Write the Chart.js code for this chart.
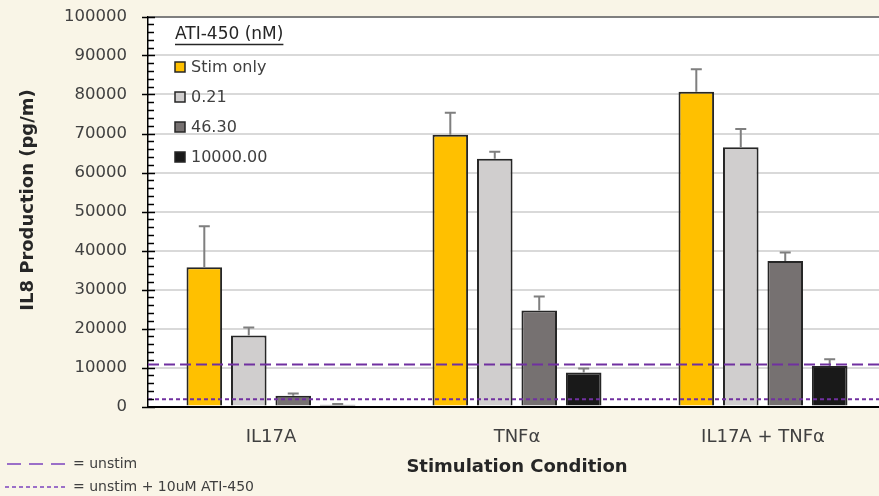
<!DOCTYPE html>
<html>
<head>
<meta charset="utf-8">
<script src="https://cdn.jsdelivr.net/npm/chart.js@4/dist/chart.umd.min.js"></script>
<style>
  html, body { margin: 0; padding: 0; background: #f9f5e7; overflow: hidden; }
  #wrap { width: 886px; height: 496px; }
</style>
</head>
<body>
<div id="wrap"><canvas id="c" width="886" height="496"></canvas></div>
<script>
// ---- data ----
const categories = ['IL17A', 'TNFα', 'IL17A + TNFα'];
const seriesLabels = ['Stim only', '0.21', '46.30', '10000.00'];
const stimOnly  = [35700, 69650, 80700];
const ati021    = [18200, 63500, 66500];
const ati4630   = [2750, 24600, 37300];
const ati10000  = [460, 8700, 10400];
const errStimOnly = [10500, 5650, 5800];
const err021      = [2050, 1800, 4650];
const err4630     = [600, 3600, 2200];
const err10000    = [200, 1050, 1700];
const refLevels = [10800, 1850];
const refLabels = ['= unstim', '= unstim + 10uM ATI-450'];
const legendTitle = 'ATI-450 (nM)';
const yTitle = 'IL8 Production (pg/m)';
const xTitle = 'Stimulation Condition';
const yMax = 100000;
const yMajorStep = 10000;
const yMinorStep = 2000;

const seriesValues = [stimOnly, ati021, ati4630, ati10000];
const seriesErrors = [errStimOnly, err021, err4630, err10000];
const seriesColors = ['#ffc000', '#d0cece', '#767171', '#191919'];
const refDashes = [[11, 5], [4, 3]];
const purple = '#7030a0';
const textColor = '#404040';

Chart.defaults.font.family = 'DejaVu Sans';
Chart.defaults.color = textColor;

const bgPlugin = {
  id: 'bg',
  beforeDraw(chart) {
    const { ctx, chartArea: a, width, height } = chart;
    ctx.save();
    ctx.fillStyle = '#f9f5e7';
    ctx.fillRect(0, 0, width, height);
    ctx.fillStyle = '#ffffff';
    ctx.fillRect(a.left, a.top, a.right - a.left, a.bottom - a.top);
    ctx.restore();
  }
};

const overlayPlugin = {
  id: 'overlay',
  afterDatasetsDraw(chart) {
    const { ctx, chartArea: a } = chart;
    const ys = chart.scales.y;
    ctx.save();
    // error bars
    chart.data.datasets.forEach((ds, i) => {
      const meta = chart.getDatasetMeta(i);
      meta.data.forEach((bar, j) => {
        const yTop = ys.getPixelForValue(ds.data[j] + ds.errors[j]);
        ctx.strokeStyle = '#7f7f7f';
        ctx.lineWidth = 2;
        ctx.beginPath();
        ctx.moveTo(bar.x, bar.y);
        ctx.lineTo(bar.x, yTop);
        ctx.moveTo(bar.x - 5.5, yTop);
        ctx.lineTo(bar.x + 5.5, yTop);
        ctx.stroke();
      });
    });
    // reference lines
    refLevels.forEach((v, i) => {
      const y = ys.getPixelForValue(v);
      ctx.strokeStyle = purple;
      ctx.lineWidth = 2;
      ctx.setLineDash(refDashes[i]);
      ctx.beginPath();
      ctx.moveTo(a.left, y);
      ctx.lineTo(a.right, y);
      ctx.stroke();
    });
    ctx.setLineDash([]);
    ctx.restore();
  },
  afterDraw(chart) {
    const { ctx, chartArea: a } = chart;
    const ys = chart.scales.y;
    ctx.save();
    // y tick marks
    ctx.strokeStyle = '#000';
    ctx.lineWidth = 1.5;
    ys.ticks.forEach(t => {
      const y = Math.round(ys.getPixelForValue(t.value)) + 0.5;
      ctx.beginPath();
      if (t.value % yMajorStep === 0) {
        ctx.moveTo(a.left - 6, y); ctx.lineTo(a.left + 7, y);
      } else {
        ctx.moveTo(a.left, y); ctx.lineTo(a.left + 6, y);
      }
      ctx.stroke();
    });
    // in-plot legend
    ctx.fillStyle = '#262626';
    ctx.font = '17px "DejaVu Sans"';
    ctx.textBaseline = 'middle';
    ctx.textAlign = 'left';
    const lx = a.left + 27;
    ctx.fillText(legendTitle, lx, a.top + 18.5);
    const tw = ctx.measureText(legendTitle).width;
    ctx.strokeStyle = '#262626';
    ctx.lineWidth = 1.5;
    ctx.beginPath();
    ctx.moveTo(lx, a.top + 28); ctx.lineTo(lx + tw, a.top + 28);
    ctx.stroke();
    ctx.font = '16px "DejaVu Sans"';
    chart.data.datasets.forEach((ds, i) => {
      const cy = a.top + 50.5 + 30 * i;
      ctx.fillStyle = ds.backgroundColor;
      ctx.fillRect(lx, cy - 5, 10, 10);
      ctx.strokeStyle = '#262626';
      ctx.lineWidth = 1.5;
      ctx.strokeRect(lx, cy - 5, 10, 10);
      ctx.fillStyle = textColor;
      ctx.fillText(ds.label, lx + 16, cy + 1);
    });
    // y title
    ctx.save();
    ctx.translate(28, 200);
    ctx.rotate(-Math.PI / 2);
    ctx.font = 'bold 18px "DejaVu Sans"';
    ctx.fillStyle = '#262626';
    ctx.textAlign = 'center';
    ctx.textBaseline = 'middle';
    ctx.fillText(yTitle, 0, 0);
    ctx.restore();
    // bottom-left legend for reference lines
    ctx.font = '14px "DejaVu Sans"';
    ctx.fillStyle = textColor;
    ctx.textAlign = 'left';
    ctx.textBaseline = 'middle';
    const rows = [464, 487];
    const spans = [[7, 66], [5, 68]];
    refLabels.forEach((lab, i) => {
      ctx.strokeStyle = '#9b6fc8';
      ctx.lineWidth = 2;
      ctx.setLineDash(i === 0 ? [14, 8] : [4, 3]);
      ctx.beginPath();
      ctx.moveTo(spans[i][0], rows[i]);
      ctx.lineTo(spans[i][1], rows[i]);
      ctx.stroke();
      ctx.setLineDash([]);
      ctx.fillText(lab, 73, rows[i]);
    });
    ctx.restore();
  }
};

new Chart(document.getElementById('c'), {
  type: 'bar',
  data: {
    labels: categories,
    datasets: seriesLabels.map((lab, i) => ({
      label: lab,
      data: seriesValues[i],
      errors: seriesErrors[i],
      backgroundColor: seriesColors[i],
      borderColor: '#262626',
      borderWidth: 2,
      categoryPercentage: 0.723,
      barPercentage: 0.8
    }))
  },
  options: {
    responsive: false,
    animation: false,
    layout: { padding: { top: 16.5, left: 0, right: 0, bottom: 0 } },
    plugins: { legend: { display: false }, tooltip: { enabled: false } },
    scales: {
      x: {
        grid: { display: false, drawTicks: false },
        border: { display: true, color: '#000', width: 2 },
        ticks: { padding: 20, color: textColor, font: { size: 18 } },
        title: { display: true, text: xTitle, color: '#262626', font: { size: 18, weight: 'bold' }, padding: { top: 0, bottom: 18 } },
        afterFit(s) { s.height = 89.5; s.paddingLeft = 0; s.paddingRight = 0; }
      },
      y: {
        min: 0,
        max: yMax,
        grid: {
          drawTicks: false,
          color: c => (c.tick && c.tick.value === yMax) ? '#7f7f7f' : ((c.tick && c.tick.value % yMajorStep === 0) ? '#d9d9d9' : 'rgba(0,0,0,0)'),
          lineWidth: 2
        },
        border: { display: true, color: '#000', width: 1.5 },
        ticks: {
          stepSize: yMinorStep,
          autoSkip: false,
          padding: 21,
          color: textColor,
          font: { size: 16.5 },
          callback: v => (v % yMajorStep === 0 ? String(v) : '')
        },
        afterFit(s) { s.width = 148; s.paddingTop = 0; s.paddingBottom = 0; }
      }
    }
  },
  plugins: [bgPlugin, overlayPlugin]
});
</script>
</body>
</html>
